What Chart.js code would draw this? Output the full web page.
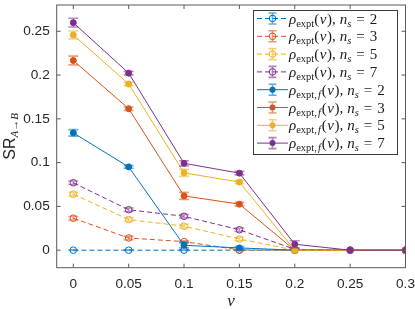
<!DOCTYPE html>
<html><head><meta charset="utf-8">
<script src="https://cdn.jsdelivr.net/npm/chart.js@4/dist/chart.umd.min.js"></script>
<style>html,body{margin:0;padding:0;background:#fff}#wrap{width:415px;height:309px;position:relative}</style>
</head><body><div id="wrap"><canvas id="c" width="415" height="309"></canvas></div>
<script>
// ---- data ----
const vValues = [0, 0.05, 0.1, 0.15, 0.2, 0.25, 0.3];
const xTicks = [0, 0.05, 0.1, 0.15, 0.2, 0.25, 0.3];
const yTicks = [0, 0.05, 0.1, 0.15, 0.2, 0.25];
const nsValues = [2, 3, 5, 7];

const expt2 = [0, 0, 0, 0, 0, 0, 0];
const expt3 = [0.0365, 0.0139, 0.0098, 0.0003, 0, 0, 0];
const expt5 = [0.064, 0.035, 0.0274, 0.0128, 0, 0, 0];
const expt7 = [0.077, 0.0462, 0.0387, 0.0233, 0.001, 0, 0];
const exptF2 = [0.134, 0.0951, 0.0056, 0.0026, 0, 0, 0];
const exptF3 = [0.2166, 0.1616, 0.062, 0.0526, 0, 0, 0];
const exptF5 = [0.2458, 0.1898, 0.0883, 0.0778, 0, 0, 0];
const exptF7 = [0.2598, 0.2022, 0.0992, 0.088, 0.0068, 0, 0];

const errExpt2 = [0.0004, 0.0004, 0.0004, 0.0004, 0, 0, 0];
const errExpt3 = [0.002, 0.002, 0.001, 0.0005, 0, 0, 0];
const errExpt5 = [0.002, 0.002, 0.002, 0.002, 0, 0, 0];
const errExpt7 = [0.002, 0.002, 0.002, 0.002, 0.0005, 0, 0];
const errF2 = [0.0037, 0.0015, 0.003, 0.0015, 0, 0, 0];
const errF3 = [0.005, 0.002, 0.004, 0.002, 0, 0, 0];
const errF5 = [0.0045, 0.002, 0.004, 0.002, 0, 0, 0];
const errF7 = [0.005, 0.002, 0.003, 0.002, 0.004, 0, 0];

const colors = ['#0072BD', '#D95319', '#EDB120', '#7E2F8E'];
const exptSeries = [expt2, expt3, expt5, expt7];
const exptFSeries = [exptF2, exptF3, exptF5, exptF7];
const exptErr = [errExpt2, errExpt3, errExpt5, errExpt7];
const exptFErr = [errF2, errF3, errF5, errF7];

// ---- build datasets ----
const datasets = [];
const errors = [];
function mk(vals, color, dashed, idx) {
  return {
    data: vals.map((y, i) => ({x: vValues[i], y})),
    borderColor: color,
    backgroundColor: dashed ? 'rgba(0,0,0,0)' : color,
    borderWidth: 1,
    borderDash: dashed ? [5, 3] : [],
    pointRadius: dashed ? 3.3 : 3,
    pointBorderWidth: 1,
    pointBorderColor: color,
    pointBackgroundColor: dashed ? 'rgba(255,255,255,0)' : color,
    pointStyle: 'circle',
    tension: 0,
    order: 10 - idx,
    _dashed: dashed
  };
}
for (let k = 0; k < 4; k++) { datasets.push(mk(exptSeries[k], colors[k], true, datasets.length)); errors.push(exptErr[k]); }
for (let k = 0; k < 4; k++) { datasets.push(mk(exptFSeries[k], colors[k], false, datasets.length)); errors.push(exptFErr[k]); }

const AXC = '#262626';

const fmt = v => String(parseFloat(Number(v).toFixed(2)));

const errorBarPlugin = {
  id: 'errbars',
  beforeDatasetDraw(chart, args) {
    const ctx = chart.ctx, ys = chart.scales.y;
    const ds = chart.data.datasets[args.index];
    const err = errors[args.index];
    ctx.save();
    ctx.strokeStyle = ds.borderColor;
    ctx.globalAlpha = 0.55;
    ctx.lineWidth = 1.6;
    args.meta.data.forEach((pt, i) => {
      const e = err[i]; if (!e) return;
      const v = ds.data[i].y;
      const y1 = ys.getPixelForValue(v + e), y2 = ys.getPixelForValue(v - e);
      ctx.beginPath();
      ctx.moveTo(pt.x, y1); ctx.lineTo(pt.x, y2);
      ctx.moveTo(pt.x - 5, y1); ctx.lineTo(pt.x + 5, y1);
      ctx.moveTo(pt.x - 5, y2); ctx.lineTo(pt.x + 5, y2);
      ctx.stroke();
    });
    ctx.restore();
  }
};

function drawParts(ctx, x, y, parts) {
  for (const p of parts) {
    if (p.gap) { x += p.gap; continue; }
    ctx.font = p.f;
    ctx.fillText(p.t, x, y + (p.dy || 0));
    x += ctx.measureText(p.t).width + (p.k || 0);
  }
  return x;
}

const SERIF = '"Liberation Serif", "DejaVu Serif", serif';
const frameLegendPlugin = {
  id: 'frameLegend',
  afterDraw(chart) {
    const ctx = chart.ctx, a = chart.chartArea, xs = chart.scales.x, ys = chart.scales.y;
    ctx.save();
    // box
    ctx.strokeStyle = '#5a5a5a';
    ctx.lineWidth = 1;
    ctx.strokeRect(a.left, a.top, a.right - a.left, a.bottom - a.top);
    ctx.beginPath();
    xTicks.forEach(v => {
      const px = xs.getPixelForValue(v);
      ctx.moveTo(px, a.bottom); ctx.lineTo(px, a.bottom - 4);
      ctx.moveTo(px, a.top); ctx.lineTo(px, a.top + 4);
    });
    yTicks.forEach(v => {
      const py = ys.getPixelForValue(v);
      ctx.moveTo(a.left, py); ctx.lineTo(a.left + 4, py);
      ctx.moveTo(a.right, py); ctx.lineTo(a.right - 4, py);
    });
    ctx.stroke();

    // axis titles
    ctx.fillStyle = AXC;
    ctx.textBaseline = 'alphabetic';
    ctx.font = 'italic 17px ' + SERIF;
    ctx.textAlign = 'center';
    ctx.fillText('v', (a.left + a.right) / 2, 306);
    ctx.textAlign = 'left';
    ctx.save();
    ctx.translate(15, (a.top + a.bottom) / 2);
    ctx.rotate(-Math.PI / 2);
    ctx.font = '16px "Liberation Sans", Arial, sans-serif';
    const w1 = ctx.measureText('SR').width;
    ctx.font = 'italic 11px ' + SERIF;
    const w2 = ctx.measureText('A→B').width;
    const x0 = -(w1 + w2) / 2;
    ctx.font = '16px "Liberation Sans", Arial, sans-serif';
    ctx.fillText('SR', x0, 0);
    ctx.font = 'italic 11px ' + SERIF;
    ctx.fillText('A→B', x0 + w1, 3);
    ctx.restore();

    // legend
    const L = {x: 253, y: 10, w: 144, h: 144};
    ctx.fillStyle = '#fff';
    ctx.fillRect(L.x, L.y, L.w, L.h);
    ctx.strokeStyle = '#3a3a3a';
    ctx.lineWidth = 1;
    ctx.strokeRect(L.x + 0.5, L.y + 0.5, L.w, L.h);
    const rowH = 17.8;
    for (let i = 0; i < 8; i++) {
      const ds = chart.data.datasets[i];
      const cy = 18.5 + i * rowH;
      const c = ds.borderColor;
      ctx.save();
      ctx.strokeStyle = c;
      ctx.lineWidth = 1;
      ctx.setLineDash(ds._dashed ? [5, 3] : []);
      ctx.beginPath(); ctx.moveTo(257, cy); ctx.lineTo(288, cy); ctx.stroke();
      ctx.setLineDash([]);
      ctx.globalAlpha = 0.6; ctx.lineWidth = 1.6;
      ctx.beginPath();
      ctx.moveTo(272.5, cy - 5.5); ctx.lineTo(272.5, cy + 5.5);
      ctx.moveTo(268.5, cy - 5.5); ctx.lineTo(276.5, cy - 5.5);
      ctx.moveTo(268.5, cy + 5.5); ctx.lineTo(276.5, cy + 5.5);
      ctx.stroke();
      ctx.globalAlpha = 1; ctx.lineWidth = 1;
      ctx.beginPath(); ctx.arc(272.5, cy, ds._dashed ? 3.3 : 3, 0, Math.PI * 2);
      if (ds._dashed) { ctx.stroke(); } else { ctx.fillStyle = c; ctx.fill(); }
      ctx.restore();

      ctx.fillStyle = '#1a1a1a';
      ctx.textAlign = 'left';
      const big = '15px ' + SERIF, bigI = 'italic 15px ' + SERIF;
      const sm = '10.5px ' + SERIF, smI = 'italic 10.5px ' + SERIF;
      const by = cy + 5;
      const parts = [{t: 'ρ', f: bigI, k: 0}, {t: 'expt', f: sm, dy: 3}];
      if (!ds._dashed) { parts.push({t: ',', f: sm, dy: 3, k: 1}); parts.push({t: 'f', f: smI, dy: 3, k: 1}); }
      parts.push({t: '(', f: big, k: 0.5}, {t: 'v', f: bigI, k: 0.5}, {t: ')', f: big}, {t: ',', f: big}, {gap: 4},
        {t: 'n', f: bigI}, {t: 's', f: smI, dy: 3}, {gap: 5}, {t: '=', f: big}, {gap: 5}, {t: String(nsValues[i % 4]), f: big});
      drawParts(ctx, 289, by, parts);
    }
    ctx.restore();
  }
};

new Chart(document.getElementById('c'), {
  type: 'line',
  data: {datasets},
  options: {
    responsive: false,
    animation: false,
    devicePixelRatio: 1,
    layout: {padding: {top: 1.7, right: 9.5, left: 0, bottom: 0}},
    plugins: {legend: {display: false}, tooltip: {enabled: false}},
    scales: {
      x: {
        type: 'linear', min: -0.015, max: 0.3,
        afterBuildTicks: s => { s.ticks = xTicks.map(v => ({value: v})); },
        afterFit: s => { s.height = 41.3; s.paddingLeft = 0; s.paddingRight = 0; },
        grid: {display: false, drawTicks: false},
        border: {display: false},
        ticks: {font: {family: '"Liberation Sans", Arial, sans-serif', size: 13.6}, color: AXC, padding: 8,
          maxRotation: 0, autoSkip: false, callback: v => fmt(v)}
      },
      y: {
        type: 'linear', min: -0.02, max: 0.28,
        afterBuildTicks: s => { s.ticks = yTicks.map(v => ({value: v})); },
        afterFit: s => { s.width = 56.7; s.paddingTop = 0; s.paddingBottom = 0; },
        grid: {display: false, drawTicks: false},
        border: {display: false},
        ticks: {font: {family: '"Liberation Sans", Arial, sans-serif', size: 13.6}, color: AXC, padding: 7,
          autoSkip: false, callback: v => fmt(v)}
      }
    }
  },
  plugins: [errorBarPlugin, frameLegendPlugin]
});
</script></body></html>
